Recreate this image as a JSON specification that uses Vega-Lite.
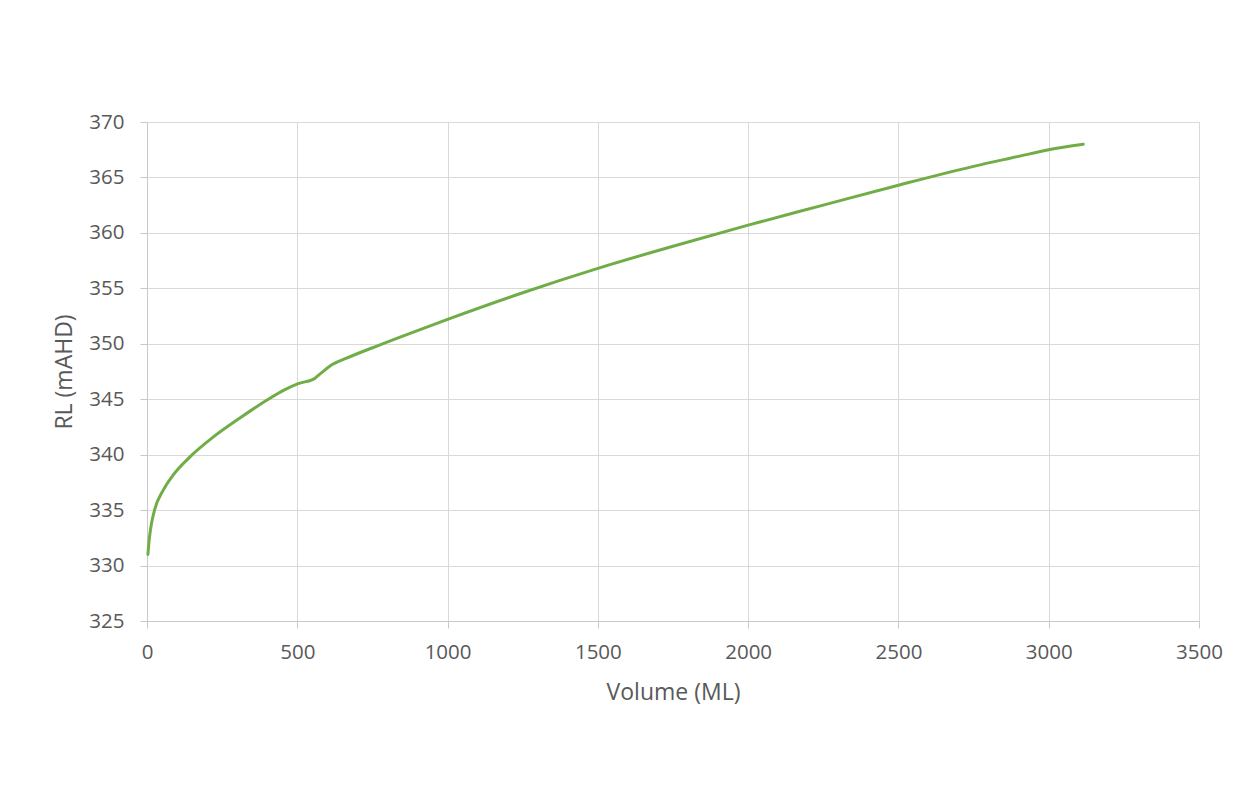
{
  "$schema": "https://vega.github.io/schema/vega-lite/v6.json",
  "width": 1052,
  "height": 499,
  "autosize": {"type": "none"},
  "padding": {"left": 147, "top": 122, "right": 38, "bottom": 166},
  "background": "#ffffff",
  "config": {
    "font": "Open Sans",
    "view": {"stroke": "#d9d9d9", "strokeWidth": 1},
    "axis": {
      "gridColor": "#d9d9d9",
      "gridWidth": 1,
      "domainColor": "#c8c8c8",
      "tickColor": "#c8c8c8",
      "tickSize": 7,
      "labelColor": "#595959",
      "labelFont": "Open Sans",
      "labelFontSize": 20.5,
      "labelFlush": false,
      "titleColor": "#595959",
      "titleFont": "Open Sans",
      "titleFontSize": 23,
      "titleFontWeight": "normal"
    }
  },
  "data": {
    "values": [
      {"volume": 3, "rl": 331.0},
      {"volume": 8, "rl": 332.5},
      {"volume": 15, "rl": 333.8},
      {"volume": 25, "rl": 335.0},
      {"volume": 54, "rl": 336.8},
      {"volume": 88, "rl": 338.2},
      {"volume": 143, "rl": 339.8},
      {"volume": 221, "rl": 341.6},
      {"volume": 309, "rl": 343.3},
      {"volume": 398, "rl": 344.9},
      {"volume": 454, "rl": 345.8},
      {"volume": 503, "rl": 346.4},
      {"volume": 559, "rl": 346.9},
      {"volume": 581, "rl": 347.4},
      {"volume": 609, "rl": 348.0},
      {"volume": 664, "rl": 348.7},
      {"volume": 775, "rl": 349.9},
      {"volume": 842, "rl": 350.6},
      {"volume": 1000, "rl": 352.2},
      {"volume": 1250, "rl": 354.6},
      {"volume": 1500, "rl": 356.8},
      {"volume": 1750, "rl": 358.8},
      {"volume": 2000, "rl": 360.7},
      {"volume": 2250, "rl": 362.5},
      {"volume": 2500, "rl": 364.3},
      {"volume": 2750, "rl": 366.0},
      {"volume": 2900, "rl": 366.9},
      {"volume": 3000, "rl": 367.5},
      {"volume": 3115, "rl": 368.0}
    ]
  },
  "mark": {"type": "line", "color": "#70ad47", "strokeWidth": 3, "interpolate": "monotone", "strokeCap": "round"},
  "encoding": {
    "x": {
      "field": "volume",
      "type": "quantitative",
      "title": "Volume (ML)",
      "scale": {"domain": [0, 3500], "nice": false, "zero": false},
      "axis": {"values": [0, 500, 1000, 1500, 2000, 2500, 3000, 3500], "labelPadding": 14, "titlePadding": 19, "format": "d"}
    },
    "y": {
      "field": "rl",
      "type": "quantitative",
      "title": "RL (mAHD)",
      "scale": {"domain": [325, 370], "nice": false, "zero": false},
      "axis": {"values": [325, 330, 335, 340, 345, 350, 355, 360, 365, 370], "labelPadding": 16, "titlePadding": 12, "format": "d"}
    }
  }
}
